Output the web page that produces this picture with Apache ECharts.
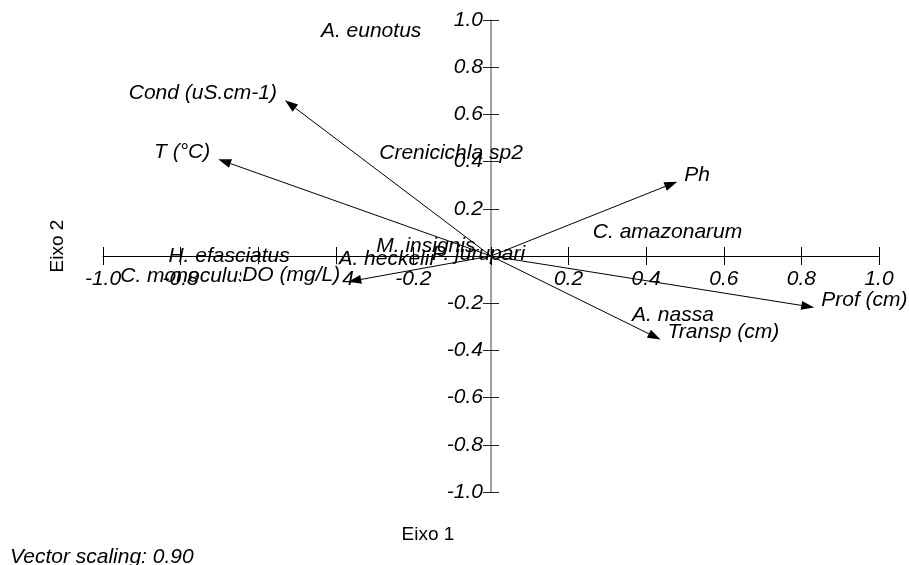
<!DOCTYPE html>
<html>
<head>
<meta charset="utf-8">
<script src="https://cdn.jsdelivr.net/npm/echarts@6/dist/echarts.min.js"></script>
<style>
html,body{margin:0;padding:0;background:#fff;}
#chart{width:909px;height:565px;}
</style>
</head>
<body>
<div id="chart"></div>
<script>
// Environmental vectors (arrow tips, axis units)
const envNames = ['Cond (uS.cm-1)', 'T (°C)', 'Ph', 'Prof (cm)', 'Transp (cm)', 'DO (mg/L)'];
const envX = [-0.531, -0.703, 0.480, 0.833, 0.437, -0.368];
const envY = [0.660, 0.410, 0.315, -0.218, -0.354, -0.109];

// Species scores
const speciesNames = ['A. eunotus', 'Crenicichla sp2', 'C. amazonarum', 'H. efasciatus', 'C. monoculus',
  'A. heckelii', 'M. insignis', 'P. jurupari', 'A. nassa'];
const speciesX = [-0.309, -0.103, 0.455, -0.675, -0.790, -0.270, -0.168, -0.032, 0.469];
const speciesY = [0.953, 0.436, 0.103, 0.000, -0.084, -0.014, 0.043, 0.008, -0.250];

// Axis ticks
const axisMin = -1.0, axisMax = 1.0, axisStep = 0.2;

const FONT = '"Liberation Sans", Arial, Helvetica, sans-serif';
const LBL = 21;
const fmt = v => Math.abs(v) < 1e-9 ? '' : v.toFixed(1);

const GRID = {left: 103, top: 20, width: 776, height: 472};
// axes cross at the centre of the plot (value 0 of a symmetric range)
const xOff = -GRID.height / 2;
const yOff = -GRID.width / 2;

const chart = echarts.init(document.getElementById('chart'), null, {renderer: 'canvas'});

const baseX = {
  type: 'value', min: axisMin, max: axisMax, interval: axisStep, position: 'bottom', offset: xOff,
  splitLine: {show: false}
};
const baseY = {
  type: 'value', min: axisMin, max: axisMax, interval: axisStep, position: 'left', offset: yOff,
  splitLine: {show: false}
};

const option = {
  backgroundColor: '#fff',
  animation: false,
  grid: Object.assign({containLabel: false, outerBoundsMode: 'none'}, GRID),
  xAxis: [
    Object.assign({}, baseX, {
      axisLine: {show: true, onZero: false, lineStyle: {color: '#000', width: 1}},
      axisTick: {show: true, inside: false, length: 9, lineStyle: {color: '#000', width: 1}},
      axisLabel: {show: true, margin: 13, formatter: fmt, showMinLabel: true, showMaxLabel: true,
        fontFamily: FONT, fontStyle: 'italic', fontSize: LBL, color: '#000'}
    }),
    Object.assign({}, baseX, {
      axisLine: {show: false, onZero: false},
      axisTick: {show: true, inside: true, length: 9, lineStyle: {color: '#000', width: 1}},
      axisLabel: {show: false}
    })
  ],
  yAxis: [
    Object.assign({}, baseY, {
      axisLine: {show: true, onZero: false, lineStyle: {color: '#808080', width: 1.5}},
      axisTick: {show: true, inside: false, length: 8, lineStyle: {color: '#222', width: 1}},
      axisLabel: {show: true, margin: 8, formatter: fmt, showMinLabel: true, showMaxLabel: true,
        fontFamily: FONT, fontStyle: 'italic', fontSize: LBL, color: '#000'}
    }),
    Object.assign({}, baseY, {
      axisLine: {show: false, onZero: false},
      axisTick: {show: true, inside: true, length: 8, lineStyle: {color: '#222', width: 1}},
      axisLabel: {show: false}
    })
  ],
  graphic: [
    {type: 'text', x: 428, y: 535, style: {text: 'Eixo 1', font: '19px ' + FONT, fill: '#000', align: 'center', verticalAlign: 'middle'}},
    {type: 'text', x: 58, y: 246, rotation: Math.PI / 2, style: {text: 'Eixo 2', font: '19px ' + FONT, fill: '#000', align: 'center', verticalAlign: 'middle'}},
    {type: 'text', x: 10, y: 557, style: {text: 'Vector scaling: 0.90', font: 'italic ' + LBL + 'px ' + FONT, fill: '#000', align: 'left', verticalAlign: 'middle'}}
  ],
  series: [
    {
      type: 'custom', name: 'species', coordinateSystem: 'cartesian2d', xAxisIndex: 0, yAxisIndex: 0,
      clip: false, z: 3,
      data: speciesNames.map((n, i) => [speciesX[i], speciesY[i]]),
      renderItem: function (params, api) {
        const p = api.coord([api.value(0), api.value(1)]);
        return {
          type: 'text', x: p[0], y: p[1],
          style: {text: speciesNames[params.dataIndex], font: 'italic ' + LBL + 'px ' + FONT, fill: '#000',
            align: 'center', verticalAlign: 'middle'}
        };
      }
    },
    {
      type: 'custom', name: 'env', coordinateSystem: 'cartesian2d', xAxisIndex: 0, yAxisIndex: 0,
      clip: false, z: 5,
      data: envNames.map((n, i) => [envX[i], envY[i]]),
      renderItem: function (params, api) {
        const o = api.coord([0, 0]);
        const p = api.coord([api.value(0), api.value(1)]);
        const dx = p[0] - o[0], dy = p[1] - o[1];
        const len = Math.hypot(dx, dy);
        const ux = dx / len, uy = dy / len;
        const hl = 13, hw = 4.5;
        const bx = p[0] - ux * hl, by = p[1] - uy * hl;
        const right = dx >= 0;
        return {
          type: 'group',
          children: [
            {type: 'line', shape: {x1: o[0], y1: o[1], x2: bx, y2: by}, style: {stroke: '#000', lineWidth: 1}},
            {type: 'polygon', shape: {points: [[p[0], p[1]], [bx - uy * hw, by + ux * hw], [bx + uy * hw, by - ux * hw]]},
              style: {fill: '#000'}},
            {type: 'text', x: p[0] + (right ? 6 : -7), y: p[1] - 7, z2: 10,
              style: {text: envNames[params.dataIndex], font: 'italic ' + LBL + 'px ' + FONT, fill: '#000',
                align: right ? 'left' : 'right', verticalAlign: 'middle', backgroundColor: '#fff', padding: [0, 1]}}
          ]
        };
      }
    }
  ]
};
chart.setOption(option);
</script>
</body>
</html>
